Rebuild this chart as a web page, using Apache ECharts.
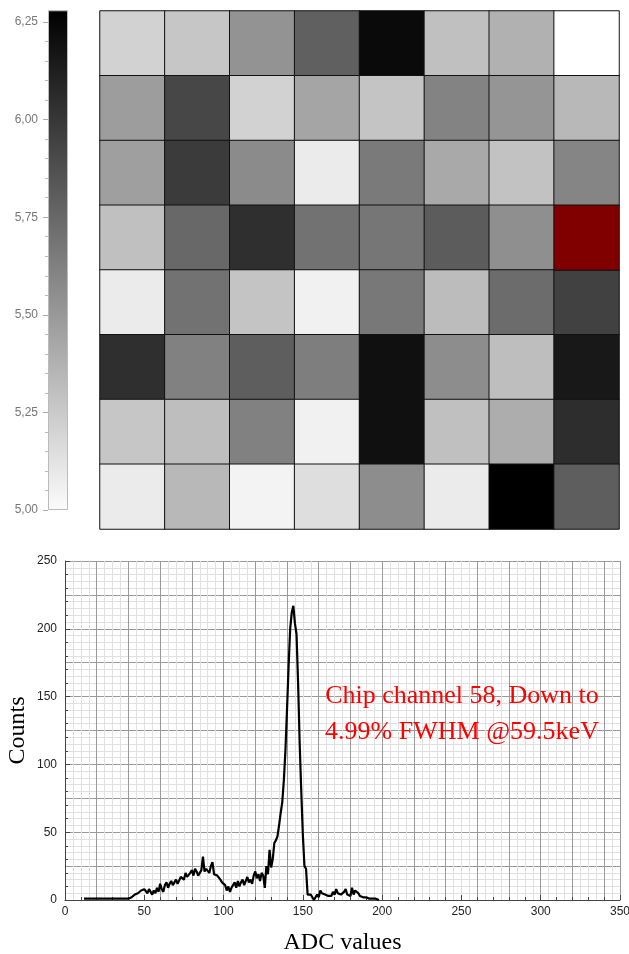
<!DOCTYPE html>
<html>
<head>
<meta charset="utf-8">
<script src="https://cdn.jsdelivr.net/npm/echarts@6/dist/echarts.min.js"></script>
<style>
html,body{margin:0;padding:0;background:#fff;}
#chart{width:629px;height:954px;}
</style>
</head>
<body>
<div id="chart"></div>
<script>
// ---- Heatmap (FWHM %, 8x8 channels), rows top to bottom ----
const row1 = [5.22, 5.28, 5.53, 5.78, 6.20, 5.31, 5.38, 5.00];
const row2 = [5.48, 5.90, 5.22, 5.44, 5.29, 5.61, 5.52, 5.35];
const row3 = [5.47, 5.96, 5.57, 5.10, 5.65, 5.42, 5.30, 5.60];
const row4 = [5.31, 5.74, 6.02, 5.69, 5.67, 5.80, 5.55, 4.99];
const row5 = [5.10, 5.69, 5.29, 5.07, 5.66, 5.33, 5.72, 5.93];
const row6 = [6.02, 5.62, 5.79, 5.63, 6.17, 5.56, 5.32, 6.13];
const row7 = [5.28, 5.32, 5.62, 5.07, 6.17, 5.31, 5.40, 6.03];
const row8 = [5.10, 5.35, 5.06, 5.16, 5.56, 5.10, 6.25, 5.79];
const heatCols = ['1','2','3','4','5','6','7','8'];
const heatRowNames = ['1','2','3','4','5','6','7','8'];
const colorMin = 5.00, colorMax = 6.25, colorBarTop = 6.28;

// ---- Spectrum ----
const adcStart = 12; // first ADC bin
const counts = [
 1,1,1,1,1,1,1,1,1,1, 1,1,1,1,1,1,1,1,1,1, 1,1,1,1,1,1,1,1,     // 12-39
 1,2,2,3,4,3,5,4,7,6,                                          // 40-49
 8,7,5,8,6,4,7,5,9,6,                                          // 50-59
 12,8,6,11,13,9,12,14,11,13,                                   // 60-69
 15,12,13,17,18,15,20,17,16,20,                                // 70-79
 22,18,23,21,18,17,22,32,21,23,                                // 80-89
 22,20,25,28,19,19,18,18,15,13,                                // 90-99
 14,11,7,10,6,9,10,13,9,14,                                    // 100-109
 10,13,15,11,12,17,13,15,12,18,                                // 110-119
 21,16,19,14,20,18,9,25,19,37,                                 // 120-129
 24,30,42,44,47,55,64,72,88,110,                               // 130-139
 140,172,200,212,217,204,196,160,115,80,                       // 140-149
 48,25,23,4,5,4,3,0,2,4,                                       // 150-159
 2,7,5,6,4,5,3,4,3,6,                                          // 160-169
 4,8,5,6,4,5,6,8,4,5,                                          // 170-179
 3,9,4,7,8,5,3,2,2,2,                                          // 180-189
 2,1,1,1,1,1,1,0,0                                             // 190-198
];
const xTicks = [0, 50, 100, 150, 200, 250, 300, 350];
const yTicks = [0, 50, 100, 150, 200, 250];
const annotation = 'Chip channel 58, Down to\n4.99% FWHM @59.5keV';

const heatRows = [row1,row2,row3,row4,row5,row6,row7,row8];
const heatData = [], bestData = [];
heatRows.forEach((r, ri) => r.forEach((v, ci) => {
  if (v < colorMin) bestData.push([ci, ri, v]); else heatData.push([ci, ri, v]);
}));
const lineData = counts.map((c, i) => [adcStart + i, c]);

const chart = echarts.init(document.getElementById('chart'), null, {renderer: 'canvas'});
const serif = '"Liberation Serif", "Times New Roman", serif';
const sans = '"Liberation Sans", Arial, sans-serif';

chart.setOption({
  animation: false,
  backgroundColor: '#ffffff',
  grid: [
    {left: 100, top: 11, width: 519, height: 518, outerBoundsMode: 'none', containLabel: false},
    {left: 48, top: 22, width: 20, height: 488, outerBoundsMode: 'none', containLabel: false},
    {left: 65, top: 561, width: 555, height: 339, outerBoundsMode: 'none', containLabel: false}
  ],
  visualMap: [{
    type: 'continuous', show: false, seriesIndex: 0,
    min: colorMin, max: colorMax,
    inRange: {color: ['#ffffff', '#000000']}
  }],
  xAxis: [
    {gridIndex: 0, type: 'category', data: heatCols, show: false},
    {gridIndex: 1, type: 'category', data: ['bar'], show: false},
    {gridIndex: 2, type: 'value', min: xTicks[0], max: xTicks[xTicks.length-1], interval: 50,
     position: 'bottom',
     axisLine: {show: true, onZero: false, lineStyle: {color: '#444', width: 1}},
     axisTick: {show: true, inside: true, length: 5, lineStyle: {color: '#444'}},
     minorTick: {show: true, splitNumber: 5, length: 3, lineStyle: {color: '#444'}},
     axisLabel: {color: '#222', fontSize: 12, fontFamily: sans, margin: 6},
     splitLine: {show: false},
     name: 'ADC values', nameLocation: 'middle', nameGap: 31, nameMoveOverlap: false,
     nameTextStyle: {fontFamily: serif, fontSize: 24, color: '#000'}
    },
    {gridIndex: 2, type: 'value', min: 0, max: 350, interval: 20, position: 'bottom',
     axisLine: {show: false}, axisTick: {show: false}, axisLabel: {show: false},
     splitLine: {show: true, lineStyle: {color: '#9a9a9a', width: 1}},
     minorSplitLine: {show: true, lineStyle: {color: '#e0e0e0', width: 1}},
     minorTick: {show: false, splitNumber: 4}
    }
  ],
  yAxis: [
    {gridIndex: 0, type: 'category', data: heatRowNames, inverse: true, show: false},
    {gridIndex: 1, type: 'value', min: colorMin, max: colorMax, interval: 0.25, position: 'left',
     axisLine: {show: false},
     axisTick: {show: true, length: 5, lineStyle: {color: '#aaa'}},
     minorTick: {show: true, splitNumber: 5, length: 3, lineStyle: {color: '#bbb'}},
     axisLabel: {color: '#777', fontSize: 12, fontFamily: sans, margin: 10,
       formatter: v => v.toFixed(2).replace('.', ',')},
     splitLine: {show: false}
    },
    {gridIndex: 2, type: 'value', min: yTicks[0], max: yTicks[yTicks.length-1], interval: 50,
     axisLine: {show: true, onZero: false, lineStyle: {color: '#444', width: 1}},
     axisTick: {show: true, inside: true, length: 5, lineStyle: {color: '#444'}},
     minorTick: {show: true, splitNumber: 5, length: 3, lineStyle: {color: '#444'}},
     axisLabel: {color: '#222', fontSize: 12, fontFamily: sans, margin: 8},
     splitLine: {show: false},
     name: 'Counts', nameLocation: 'middle', nameGap: 35, nameRotate: 90, nameMoveOverlap: false,
     nameTextStyle: {fontFamily: serif, fontSize: 24, color: '#000'}
    },
    {gridIndex: 2, type: 'value', min: 0, max: 250, interval: 25,
     axisLine: {show: false}, axisTick: {show: false}, axisLabel: {show: false},
     splitLine: {show: true, lineStyle: {color: '#9a9a9a', width: 1}},
     minorSplitLine: {show: true, lineStyle: {color: '#e0e0e0', width: 1}},
     minorTick: {show: false, splitNumber: 5}
    }
  ],
  series: [
    {type: 'heatmap', xAxisIndex: 0, yAxisIndex: 0, data: heatData,
     itemStyle: {borderColor: '#111', borderWidth: 1},
     emphasis: {disabled: true}, silent: true},
    {type: 'bar', xAxisIndex: 1, yAxisIndex: 1, stack: 'cb', data: [colorMin],
     barWidth: '100%', itemStyle: {color: 'rgba(0,0,0,0)'}, silent: true},
    {type: 'bar', xAxisIndex: 1, yAxisIndex: 1, stack: 'cb', data: [colorBarTop - colorMin],
     barWidth: '100%', clip: false, silent: true,
     itemStyle: {
       borderColor: '#bbb', borderWidth: 1,
       color: new echarts.graphic.LinearGradient(0, 0, 0, 1, [
         {offset: 0, color: '#000000'}, {offset: 1, color: '#fbfbfb'}])
     }},
    {type: 'line', xAxisIndex: 2, yAxisIndex: 2, data: lineData,
     showSymbol: false, symbol: 'none', smooth: false,
     lineStyle: {color: '#000', width: 2.2}, silent: true, z: 5},
    {type: 'heatmap', xAxisIndex: 0, yAxisIndex: 0, data: bestData,
     itemStyle: {color: '#800000', borderColor: '#111', borderWidth: 1},
     emphasis: {disabled: true}, silent: true}
  ],
  graphic: [{
    type: 'text', x: 462, y: 714, z: 10,
    style: {text: annotation, fill: '#ff0000', fontFamily: serif, fontSize: 26,
            align: 'center', verticalAlign: 'middle', lineHeight: 36}
  }]
});
</script>
</body>
</html>
